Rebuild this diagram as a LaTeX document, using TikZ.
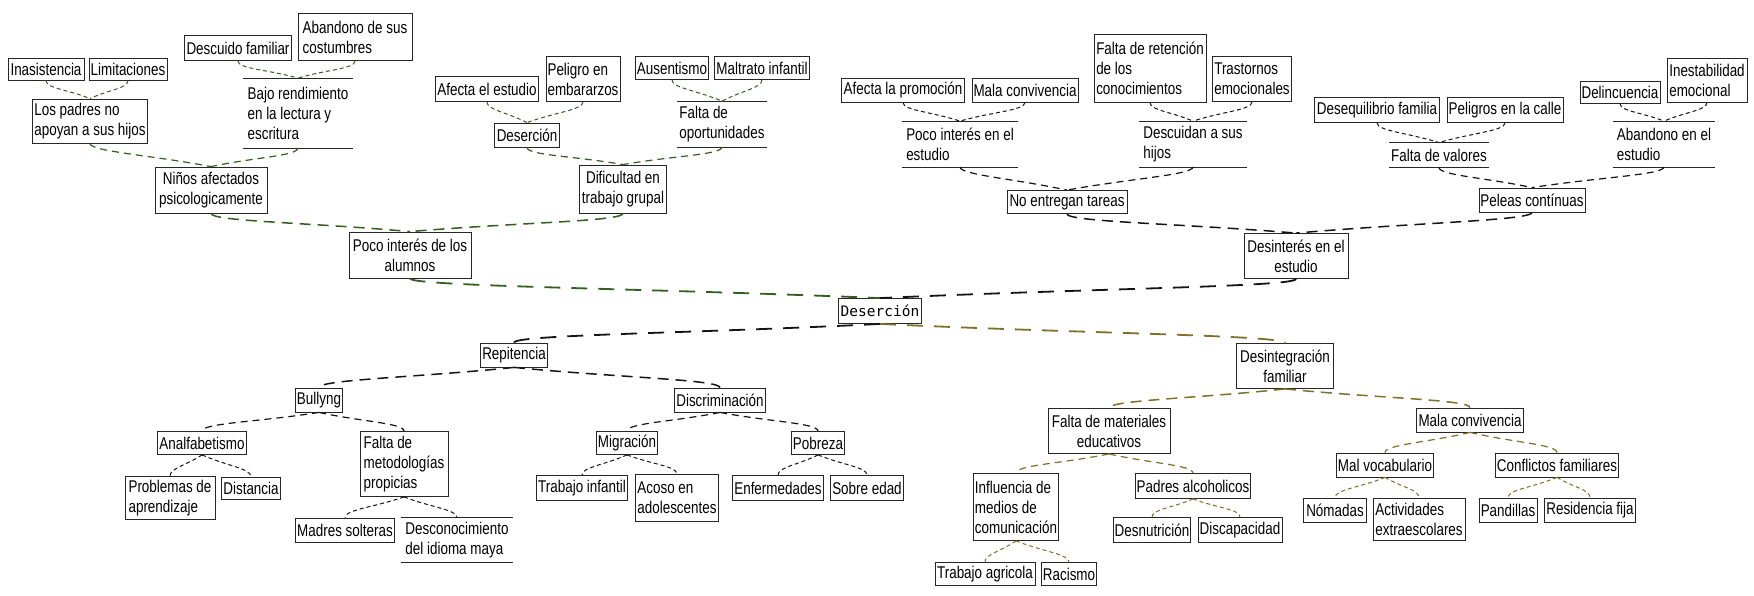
\documentclass[tikz,border=0pt]{standalone}
\usepackage{fontspec}
\newfontfamily\mapfont{Liberation Sans}[FakeStretch=0.79]
\newfontfamily\rootfont{DejaVu Sans Mono}
\usetikzlibrary{calc}
\definecolor{cgreen}{RGB}{50,95,30}
\definecolor{colive}{RGB}{125,112,40}
\definecolor{cdark}{RGB}{20,20,20}
\tikzset{
  bx/.style={draw=black!85, line width=0.8pt, inner sep=1.5pt, font=\mapfont\fontsize{17}{20}\selectfont, align=left},
  bxc/.style={bx, align=center},
  tb/.style={draw=none, append after command={(\tikzlastnode.north west) edge[draw=black!85,line width=0.8pt] (\tikzlastnode.north east) (\tikzlastnode.south west) edge[draw=black!85,line width=0.8pt] (\tikzlastnode.south east)}},
  lA/.style={line width=1.8pt, dash pattern=on 16pt off 11pt},
  lB/.style={line width=1.5pt, dash pattern=on 11pt off 7pt},
  lC/.style={line width=1.2pt, dash pattern=on 7pt off 5pt},
  lD/.style={line width=1pt, dash pattern=on 4pt off 3pt},
}
\newcommand\nd[7]{\node[#6, minimum width=#4pt, minimum height=#5pt] (#1) at (#2,#3) {#7};}
\newcommand\cUp[3]{\draw[#1] (#2.south) .. controls ($(#2.south)+(0,8)$) and ($(#2.south)!0.5!(#3.north)$) .. (#3.north);}
\newcommand\cDn[3]{\draw[#1] (#2.south) .. controls ($(#2.south)!0.5!(#3.north)$) and ($(#3.north)+(0,-8)$) .. (#3.north);}
\begin{document}
\begin{tikzpicture}[x=1pt,y=-1pt]
\fill[white] (0,0) rectangle (1754,595);
\useasboundingbox (0,0) rectangle (1754,595);
% top-left
\nd{inas}{46}{69}{76}{22}{bx}{Inasistencia}
\nd{limi}{128}{69}{78}{22}{bx}{Limitaciones}
\nd{padres}{90}{121}{115}{44}{bx}{Los padres no\\apoyan a sus hijos}
\nd{descf}{238}{48}{107}{25}{bx}{Descuido familiar}
\nd{aband}{355}{37}{114}{47}{bx}{Abandono de sus\\costumbres}
\nd{bajo}{298}{113}{110}{69}{bx,tb}{Bajo rendimiento\\en la lectura y\\escritura}
\nd{ninos}{211}{190}{112}{46}{bxc}{Niños afectados\\psicologicamente}
\nd{afest}{487}{89}{103}{25}{bx}{Afecta el estudio}
\nd{peli}{583}{79}{74}{45}{bx}{Peligro en\\embararzos}
\nd{ausen}{672}{68}{73}{23}{bx}{Ausentismo}
\nd{maltr}{762}{68}{95}{23}{bx}{Maltrato infantil}
\nd{deser2}{527}{135}{65}{24}{bx}{Deserción}
\nd{faltop}{722}{124}{89}{45}{bx,tb}{Falta de\\oportunidades}
\nd{dific}{623}{189}{87}{48}{bxc}{Dificultad en\\trabajo grupal}
\nd{pocoal}{410}{255}{122}{46}{bxc}{Poco interés de los\\alumnos}
% top-right
\nd{afprom}{903}{90}{123}{24}{bx}{Afecta la promoción}
\nd{malac}{1025}{90}{106}{24}{bx}{Mala convivencia}
\nd{faltret}{1150}{68}{112}{68}{bx}{Falta de retención\\de los\\conocimientos}
\nd{trast}{1252}{79}{79}{45}{bx}{Trastornos\\emocionales}
\nd{pocoest}{960}{144}{116}{45}{bx,tb}{Poco interés en el\\estudio}
\nd{descu}{1193}{144}{107}{45}{bx,tb}{Descuidan a sus\\hijos}
\nd{noent}{1067}{202}{120}{23}{bx}{No entregan tareas}
\nd{deseq}{1377}{110}{125}{25}{bx}{Desequilibrio familia}
\nd{pelcal}{1505}{110}{116}{25}{bx}{Peligros en la calle}
\nd{delin}{1620}{92}{80}{22}{bx}{Delincuencia}
\nd{inest}{1707}{80}{80}{44}{bx}{Inestabilidad\\emocional}
\nd{faltval}{1439}{155}{98}{24}{bx,tb}{Falta de valores}
\nd{abest}{1664}{144}{102}{45}{bx,tb}{Abandono en el\\estudio}
\nd{peleas}{1532}{200}{105}{24}{bx}{Peleas contínuas}
\nd{desint}{1296}{256}{104}{45}{bxc}{Desinterés en el\\estudio}
% root
\node[draw=black!85, line width=0.8pt, inner sep=2pt, minimum width=75pt, minimum height=25pt, font=\rootfont\fontsize{14.5}{16}\selectfont] (root) at (880,311) {Deserción};
% bottom-left
\nd{repit}{514}{355}{65}{24}{bx}{Repitencia}
\nd{bully}{319}{400}{46}{24}{bx}{Bullyng}
\nd{discr}{720}{400}{90}{24}{bx}{Discriminación}
\nd{analf}{202}{443}{89}{23}{bx}{Analfabetismo}
\nd{faltmet}{404}{464}{88}{65}{bx}{Falta de\\metodologías\\propicias}
\nd{probl}{170}{498}{90}{43}{bx}{Problemas de\\aprendizaje}
\nd{dist}{251}{488}{57}{22}{bx}{Distancia}
\nd{madres}{345}{530}{99}{24}{bx}{Madres solteras}
\nd{descon}{457}{540}{111}{44}{bx,tb}{Desconocimiento\\del idioma maya}
\nd{migr}{627}{443}{60}{23}{bx}{Migración}
\nd{pobr}{818}{443}{53}{23}{bx}{Pobreza}
\nd{trinf}{582}{488}{91}{25}{bx}{Trabajo infantil}
\nd{acoso}{677}{498}{83}{47}{bx}{Acoso en\\adolescentes}
\nd{enfer}{778}{488}{90}{25}{bx}{Enfermedades}
\nd{sobre}{867}{488}{73}{25}{bx}{Sobre edad}
% bottom-right
\nd{desfam}{1285}{366}{97}{45}{bxc}{Desintegración\\familiar}
\nd{faltmat}{1109}{431}{122}{45}{bxc}{Falta de materiales\\educativos}
\nd{influ}{1016}{507}{85}{67}{bx}{Influencia de\\medios de\\comunicación}
\nd{padalc}{1193}{486}{108}{25}{bx}{Padres alcoholicos}
\nd{desnut}{1152}{530}{77}{25}{bx}{Desnutrición}
\nd{discap}{1240}{530}{84}{25}{bx}{Discapacidad}
\nd{tragr}{985}{574}{100}{23}{bx}{Trabajo agricola}
\nd{racis}{1069}{574}{55}{23}{bx}{Racismo}
\nd{malconv}{1470}{420}{107}{24}{bx}{Mala convivencia}
\nd{malvoc}{1385}{465}{97}{24}{bx}{Mal vocabulario}
\nd{confl}{1557}{465}{121}{24}{bx}{Conflictos familiares}
\nd{nomad}{1335}{510}{63}{24}{bx}{Nómadas}
\nd{activ}{1419}{519}{92}{42}{bx}{Actividades\\extraescolares}
\nd{pandi}{1508}{510}{58}{24}{bx}{Pandillas}
\nd{resid}{1590}{510}{90}{24}{bx}{Residencia fija}
% connectors top-left
\cUp{cgreen,lD}{inas}{padres}
\cUp{cgreen,lD}{limi}{padres}
\cUp{cgreen,lD}{descf}{bajo}
\cUp{cgreen,lD}{aband}{bajo}
\cUp{cgreen,lC}{padres}{ninos}
\cUp{cgreen,lC}{bajo}{ninos}
\cUp{cgreen,lD}{afest}{deser2}
\cUp{cgreen,lD}{peli}{deser2}
\cUp{cgreen,lD}{ausen}{faltop}
\cUp{cgreen,lD}{maltr}{faltop}
\cUp{cgreen,lC}{deser2}{dific}
\cUp{cgreen,lC}{faltop}{dific}
\cUp{cgreen,lB}{ninos}{pocoal}
\cUp{cgreen,lB}{dific}{pocoal}
\cUp{cgreen,lA}{pocoal}{root}
% connectors top-right
\cUp{cdark,lD}{afprom}{pocoest}
\cUp{cdark,lD}{malac}{pocoest}
\cUp{cdark,lD}{faltret}{descu}
\cUp{cdark,lD}{trast}{descu}
\cUp{cdark,lC}{pocoest}{noent}
\cUp{cdark,lC}{descu}{noent}
\cUp{cdark,lD}{deseq}{faltval}
\cUp{cdark,lD}{pelcal}{faltval}
\cUp{cdark,lD}{delin}{abest}
\cUp{cdark,lD}{inest}{abest}
\cUp{cdark,lC}{faltval}{peleas}
\cUp{cdark,lC}{abest}{peleas}
\cUp{cdark,lB}{noent}{desint}
\cUp{cdark,lB}{peleas}{desint}
\cUp{cdark,lA}{desint}{root}
% connectors bottom-left
\cDn{cdark,lA}{root}{repit}
\cDn{cdark,lB}{repit}{bully}
\cDn{cdark,lB}{repit}{discr}
\cDn{cdark,lC}{bully}{analf}
\cDn{cdark,lC}{bully}{faltmet}
\cDn{cdark,lD}{analf}{probl}
\cDn{cdark,lD}{analf}{dist}
\cDn{cdark,lD}{faltmet}{madres}
\cDn{cdark,lD}{faltmet}{descon}
\cDn{cdark,lC}{discr}{migr}
\cDn{cdark,lC}{discr}{pobr}
\cDn{cdark,lD}{migr}{trinf}
\cDn{cdark,lD}{migr}{acoso}
\cDn{cdark,lD}{pobr}{enfer}
\cDn{cdark,lD}{pobr}{sobre}
% connectors bottom-right
\cDn{colive,lA}{root}{desfam}
\cDn{colive,lB}{desfam}{faltmat}
\cDn{colive,lB}{desfam}{malconv}
\cDn{colive,lC}{faltmat}{influ}
\cDn{colive,lC}{faltmat}{padalc}
\cDn{colive,lD}{influ}{tragr}
\cDn{colive,lD}{influ}{racis}
\cDn{colive,lD}{padalc}{desnut}
\cDn{colive,lD}{padalc}{discap}
\cDn{colive,lC}{malconv}{malvoc}
\cDn{colive,lC}{malconv}{confl}
\cDn{colive,lD}{malvoc}{nomad}
\cDn{colive,lD}{malvoc}{activ}
\cDn{colive,lD}{confl}{pandi}
\cDn{colive,lD}{confl}{resid}
\end{tikzpicture}
\end{document}
